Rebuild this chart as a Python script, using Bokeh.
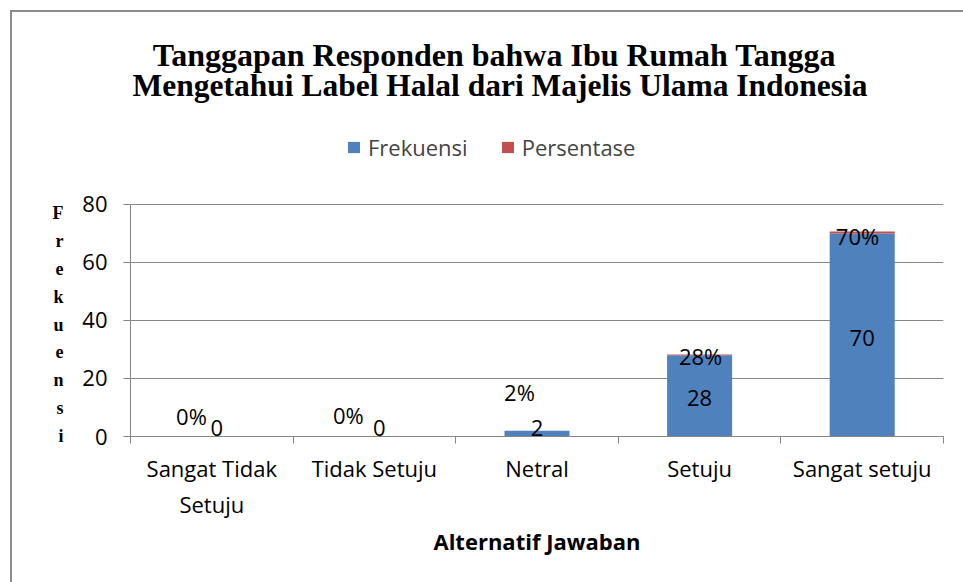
from bokeh.plotting import figure
from bokeh.models import (ColumnDataSource, FixedTicker, Label, Legend, LegendItem, Range1d, LinearAxis)
from bokeh.embed import file_html
from bokeh.resources import INLINE

categories = ["Sangat Tidak\nSetuju", "Tidak Setuju", "Netral", "Setuju", "Sangat setuju"]
frekuensi = [0, 0, 2, 28, 70]
persentase = [0.0, 0.0, 0.02, 0.28, 0.70]
persen_labels = ["0%", "0%", "2%", "28%", "70%"]
y_ticks = [0, 20, 40, 60, 80]
title_lines = ["Tanggapan Responden bahwa Ibu Rumah Tangga",
               "Mengetahui Label Halal dari Majelis Ulama Indonesia"]
y_title = "Frekuensi"
x_title = "Alternatif Jawaban"

# label positions (data units)
persen_label_y = [7.0, 7.4, 15.2, 27.6, 69.0]
persen_label_dx = [-0.125, -0.16, -0.108, 0.006, -0.029]
frek_label_y = [3.0, 3.0, 2.8, 13.4, 34.1]
frek_label_dx = [0.03, 0.03, 0.0, 0.0, 0.0]
title_y = [131.6, 120.9]
title_x = [2.238, 2.273]
title_size = ["32px", "31.5px"]

BLUE = "#4F81BD"
RED = "#C0504D"
GRID = "#868686"
SANS = "Open Sans"
SERIF = "Liberation Serif"
FS = "22px"

n = len(categories)
xs = [i + 0.5 for i in range(n)]
tops = [f + p for f, p in zip(frekuensi, persentase)]

src = ColumnDataSource(dict(x=xs, f=frekuensi, top=tops))

# frame spans from the top of the chart area down to the value axis (0)
y_top = 145.5
p = figure(width=953, height=572, output_backend="svg", toolbar_location=None, title=None,
           x_range=Range1d(0, n), y_range=Range1d(0, y_top),
           min_border_left=118, min_border_right=22, min_border_top=2, min_border_bottom=148)
p.outline_line_color = None
p.background_fill_color = None
p.border_fill_color = None
p.styles = {"margin-left": "10px", "margin-top": "10px",
            "border-left": "2px solid #8c8c8c", "border-top": "2px solid #8c8c8c"}

r1 = p.vbar(x="x", top="f", bottom=0, width=0.4, source=src, fill_color=BLUE, line_color=None)
r2 = p.vbar(x="x", top="top", bottom="f", width=0.4, source=src, fill_color=RED, line_color=None)

# axes
p.xgrid.grid_line_color = None
p.ygrid.grid_line_color = GRID
p.ygrid.grid_line_width = 1.2
p.ygrid.ticker = FixedTicker(ticks=y_ticks[1:])
p.yaxis.ticker = FixedTicker(ticks=y_ticks)
p.yaxis.bounds = (0, 80)
p.yaxis.axis_line_color = GRID
p.yaxis.major_tick_line_color = GRID
p.yaxis.major_tick_out = 7
p.yaxis.major_tick_in = 0
p.yaxis.minor_tick_line_color = None
p.yaxis.major_label_text_font = SANS
p.yaxis.major_label_text_font_size = FS
p.yaxis.major_label_text_color = "black"
p.yaxis.major_label_standoff = 16

p.xaxis.ticker = FixedTicker(ticks=xs, minor_ticks=list(range(n + 1)))
p.xaxis.major_label_overrides = {x: c for x, c in zip(xs, categories)}
p.xaxis.axis_line_color = GRID
p.xaxis.major_tick_line_color = None
p.xaxis.major_tick_out = 0
p.xaxis.minor_tick_line_color = GRID
p.xaxis.minor_tick_out = 7
p.xaxis.minor_tick_in = 0
p.xaxis.major_label_text_font = SANS
p.xaxis.major_label_text_font_size = FS
p.xaxis.major_label_text_color = "black"
p.xaxis.major_label_standoff = 9
p.xaxis.axis_label = x_title
p.xaxis.axis_label_text_font = SANS
p.xaxis.axis_label_text_font_style = "bold"
p.xaxis.axis_label_text_font_size = FS
p.xaxis.axis_label_text_color = "black"
p.xaxis.axis_label_standoff = 4

# stacked letters of the y title, as an extra left axis
letter_top = 76.9
letter_step = 9.58
letter_pos = [letter_top - k * letter_step for k in range(len(y_title))]
ax2 = LinearAxis(ticker=FixedTicker(ticks=letter_pos),
                 major_label_overrides={v: ch for v, ch in zip(letter_pos, y_title)},
                 axis_line_color=None, major_tick_line_color=None, minor_tick_line_color=None,
                 major_label_text_font=SERIF, major_label_text_font_style="bold",
                 major_label_text_font_size="18px", major_label_text_color="black",
                 major_label_text_align="center", major_label_standoff=10)
p.add_layout(ax2, "left")

# data labels
for i in range(n):
    p.add_layout(Label(x=xs[i] + persen_label_dx[i], y=persen_label_y[i], text=persen_labels[i],
                       text_align="center", text_baseline="middle", text_font=SANS,
                       text_font_size=FS, text_color="black"))
    p.add_layout(Label(x=xs[i] + frek_label_dx[i], y=frek_label_y[i], text=str(frekuensi[i]),
                       text_align="center", text_baseline="middle",
                       text_font=SANS, text_font_size=FS, text_color="black"))

# title
for tx, ty, ts, line in zip(title_x, title_y, title_size, title_lines):
    p.add_layout(Label(x=tx, y=ty, text=line, text_align="center", text_baseline="middle",
                       text_font=SERIF, text_font_style="bold", text_font_size=ts,
                       text_color="black"))

legend = Legend(items=[LegendItem(label="Frekuensi", renderers=[r1]),
                       LegendItem(label="Persentase", renderers=[r2])],
                orientation="horizontal", location=(216, 274),
                glyph_width=15, glyph_height=14, label_text_font=SANS,
                label_text_font_size=FS, label_standoff=7, spacing=32,
                border_line_color=None, background_fill_alpha=0, padding=4, margin=0)
p.add_layout(legend)

open("out.html", "w").write(file_html(p, INLINE))
